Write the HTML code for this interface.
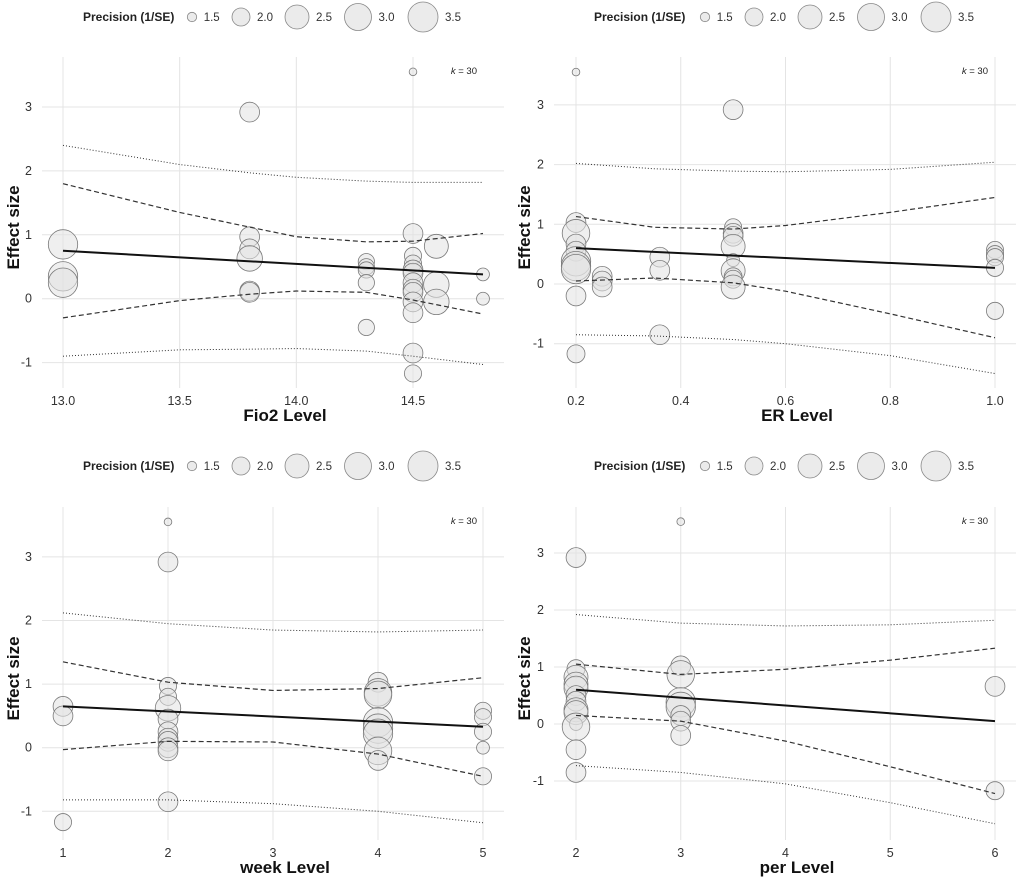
<!DOCTYPE html>
<html><head><meta charset="utf-8">
<style>
html,body{margin:0;padding:0;background:#fff;}
svg{display:block;font-family:"Liberation Sans",sans-serif;}
</style></head>
<body>
<svg id="chart" width="1022" height="879" viewBox="0 0 1022 879" xmlns="http://www.w3.org/2000/svg"></svg>
<script>
// ---------- data ----------
const legendVals = [1.5, 2.0, 2.5, 3.0, 3.5];
const legendRadii = [4.7, 9, 12, 13.5, 15];
const yTicks = [-1, 0, 1, 2, 3];

// Panel 1: Fio2
const p1X = [14.5,13.8,13.0,13.0,13.0,13.8,13.8,13.8,13.8,13.8,14.3,14.3,14.3,14.3,14.3,14.5,14.5,14.5,14.5,14.5,14.5,14.5,14.5,14.5,14.5,14.5,14.5,14.6,14.6,14.6,14.8,14.8];
const p1Y = [3.55,2.92,0.85,0.35,0.25,0.97,0.78,0.63,0.12,0.10,0.58,0.50,0.45,0.25,-0.45,1.02,0.67,0.55,0.45,0.40,0.25,0.15,0.10,-0.05,-0.22,-0.85,-1.17,0.82,0.22,-0.05,0.38,0.0];
const p1P = [1.4,2.15,3.4,3.4,3.4,2.15,2.15,2.75,2.15,2.15,1.9,1.9,1.9,1.9,1.9,2.15,1.95,1.95,2.15,2.15,2.15,2.15,2.15,2.15,2.15,2.15,1.95,2.5,2.75,2.75,1.7,1.7];
const p1Ticks = [13.0, 13.5, 14.0, 14.5];
const p1TickLabels = ["13.0","13.5","14.0","14.5"];
const p1FitX = [13.0, 14.8];
const p1FitY = [0.75, 0.38];
const p1BandX = [13.0, 13.5, 13.8, 14.0, 14.3, 14.5, 14.8];
const p1CiUp = [1.8, 1.35, 1.12, 0.97, 0.89, 0.9, 1.02];
const p1CiLo = [-0.3, -0.03, 0.07, 0.12, 0.1, -0.02, -0.24];
const p1PiUp = [2.4, 2.1, 1.97, 1.9, 1.84, 1.82, 1.82];
const p1PiLo = [-0.9, -0.8, -0.79, -0.78, -0.82, -0.9, -1.03];

// Panel 2: ER
const p2X = [0.2,0.2,0.2,0.2,0.2,0.2,0.2,0.2,0.2,0.2,0.25,0.25,0.25,0.36,0.36,0.36,0.5,0.5,0.5,0.5,0.5,0.5,0.5,0.5,0.5,0.5,1.0,1.0,1.0,1.0,1.0];
const p2Y = [3.55,1.03,0.85,0.67,0.55,0.38,0.30,0.25,-0.2,-1.17,0.13,0.05,-0.05,0.45,0.23,-0.85,2.92,0.95,0.85,0.80,0.63,0.40,0.22,0.12,0.08,-0.05,0.57,0.50,0.45,0.27,-0.45];
const p2P = [1.4,2.15,3.1,2.15,2.15,3.4,3.4,3.4,2.15,2.0,2.15,2.15,2.15,2.15,2.15,2.15,2.15,1.95,2.15,2.15,2.5,1.7,2.5,2.0,2.0,2.5,1.95,1.95,1.95,1.95,1.95];
const p2Ticks = [0.2, 0.4, 0.6, 0.8, 1.0];
const p2TickLabels = ["0.2","0.4","0.6","0.8","1.0"];
const p2FitX = [0.2, 1.0];
const p2FitY = [0.6, 0.27];
const p2BandX = [0.2, 0.35, 0.5, 0.6, 0.8, 1.0];
const p2CiUp = [1.13, 0.95, 0.92, 0.98, 1.2, 1.45];
const p2CiLo = [0.05, 0.1, 0.02, -0.12, -0.5, -0.9];
const p2PiUp = [2.02, 1.93, 1.89, 1.88, 1.92, 2.04];
const p2PiLo = [-0.85, -0.87, -0.93, -1.0, -1.2, -1.5];

// Panel 3: week
const p3X = [1,1,1,2,2,2,2,2,2,2,2,2,2,2,2,4,4,4,4,4,4,4,4,5,5,5,5,5];
const p3Y = [0.65,0.5,-1.17,3.55,2.92,0.97,0.8,0.62,0.45,0.25,0.15,0.10,0.0,-0.05,-0.85,1.03,0.87,0.83,0.40,0.30,0.22,-0.05,-0.2,0.58,0.48,0.25,0.0,-0.45];
const p3P = [2.15,2.15,1.95,1.4,2.15,1.95,1.95,2.75,2.15,2.15,2.15,2.15,2.15,2.15,2.15,2.15,3.1,3.1,3.4,3.4,3.4,3.1,2.15,1.95,1.95,1.95,1.7,1.95];
const p3Ticks = [1, 2, 3, 4, 5];
const p3TickLabels = ["1","2","3","4","5"];
const p3FitX = [1, 5];
const p3FitY = [0.65, 0.33];
const p3BandX = [1, 2, 3, 4, 5];
const p3CiUp = [1.35, 1.03, 0.9, 0.93, 1.1];
const p3CiLo = [-0.03, 0.1, 0.09, -0.1, -0.45];
const p3PiUp = [2.12, 1.95, 1.85, 1.82, 1.85];
const p3PiLo = [-0.82, -0.82, -0.88, -1.0, -1.18];

// Panel 4: per
const p4X = [2,2,2,2,2,2,2,2,2,2,2,2,2,3,3,3,3,3,3,3,3,6,6];
const p4Y = [2.92,0.97,0.82,0.70,0.63,0.50,0.40,0.25,0.20,0.0,-0.05,-0.45,-0.85,3.55,1.02,0.87,0.38,0.30,0.15,0.05,-0.2,0.66,-1.17];
const p4P = [2.15,2.0,2.5,2.5,2.5,2.15,2.15,2.5,2.5,1.7,3.1,2.15,2.15,1.4,2.15,3.1,3.4,3.4,2.15,2.15,2.15,2.15,2.0];
const p4Ticks = [2, 3, 4, 5, 6];
const p4TickLabels = ["2","3","4","5","6"];
const p4FitX = [2, 6];
const p4FitY = [0.6, 0.05];
const p4BandX = [2, 3, 4, 5, 6];
const p4CiUp = [1.05, 0.87, 0.96, 1.12, 1.33];
const p4CiLo = [0.15, 0.05, -0.3, -0.75, -1.22];
const p4PiUp = [1.92, 1.77, 1.72, 1.74, 1.82];
const p4PiLo = [-0.73, -0.85, -1.05, -1.38, -1.75];

// ---------- layout ----------
const NS = "http://www.w3.org/2000/svg";
const svg = document.getElementById("chart");
function mk(tag, attrs, parent){
  const e = document.createElementNS(NS, tag);
  for (const k in attrs) e.setAttribute(k, attrs[k]);
  (parent||svg).appendChild(e);
  return e;
}
function radius(p){
  if (p <= legendVals[0]) return legendRadii[0] + (p - legendVals[0]) * (legendRadii[1]-legendRadii[0]) / (legendVals[1]-legendVals[0]);
  for (let i=0;i<legendVals.length-1;i++){
    if (p <= legendVals[i+1]) return legendRadii[i] + (p-legendVals[i])*(legendRadii[i+1]-legendRadii[i])/(legendVals[i+1]-legendVals[i]);
  }
  return legendRadii[legendRadii.length-1];
}

const panels = [
  {name:"fio2", X:p1X,Y:p1Y,P:p1P,ticks:p1Ticks,labels:p1TickLabels,fitX:p1FitX,fitY:p1FitY,bx:p1BandX,ciU:p1CiUp,ciL:p1CiLo,piU:p1PiUp,piL:p1PiLo,
   title:"Fio2 Level", ox:0, oy:0, l:42, r:504, t:57, b:388, xa:13.0, pa:63, xb:14.5, pb:413, y0:298.7, yu:63.9},
  {name:"er", X:p2X,Y:p2Y,P:p2P,ticks:p2Ticks,labels:p2TickLabels,fitX:p2FitX,fitY:p2FitY,bx:p2BandX,ciU:p2CiUp,ciL:p2CiLo,piU:p2PiUp,piL:p2PiLo,
   title:"ER Level", ox:511, oy:0, l:554, r:1016, t:57, b:388, xa:0.2, pa:576, xb:1.0, pb:995, y0:284, yu:59.7},
  {name:"week", X:p3X,Y:p3Y,P:p3P,ticks:p3Ticks,labels:p3TickLabels,fitX:p3FitX,fitY:p3FitY,bx:p3BandX,ciU:p3CiUp,ciL:p3CiLo,piU:p3PiUp,piL:p3PiLo,
   title:"week Level", ox:0, oy:440, l:42, r:504, t:507, b:840, xa:1, pa:63, xb:5, pb:483, y0:747.7, yu:63.6},
  {name:"per", X:p4X,Y:p4Y,P:p4P,ticks:p4Ticks,labels:p4TickLabels,fitX:p4FitX,fitY:p4FitY,bx:p4BandX,ciU:p4CiUp,ciL:p4CiLo,piU:p4PiUp,piL:p4PiLo,
   title:"per Level", ox:511, oy:440, l:554, r:1016, t:507, b:840, xa:2, pa:576, xb:6, pb:995, y0:724, yu:57}
];
const legendOffsets = [0, 49, 105, 166, 231];

panels.forEach(pn => {
  const g = mk("g", {});
  
  
  const sx = v => pn.pa + (v - pn.xa) * (pn.pb - pn.pa) / (pn.xb - pn.xa);
  const sy = v => pn.y0 - v * pn.yu;

  // legend
  const lg = mk("g", {}, g);
  
  
  const ly = pn.oy + (pn.oy ? 26 : 17);
  const lt = mk("text", {x: pn.ox + 83, y: ly + 4, "font-size": 12, "font-weight": "bold", fill: "#222"}, lg);
  lt.textContent = "Precision (1/SE)";
  
  
  legendVals.forEach((v, i) => {
    const cx = pn.ox + 192 + legendOffsets[i] + (pn.ox ? 2 : 0);
    const c = mk("circle", {cx: cx, cy: ly, r: radius(v), fill: "#ebebeb", stroke: "#888", "stroke-width": 0.8}, lg);
    
    
    const t = mk("text", {x: cx + radius(v) + 7, y: ly + 4, "font-size": 11.5, fill: "#333"}, lg);
    t.textContent = v.toFixed(1);
    
    
  });

  // grid
  yTicks.forEach(v => {
    const ln = mk("line", {x1: pn.l, x2: pn.r, y1: sy(v), y2: sy(v), stroke: "#e4e4e4", "stroke-width": 1}, g);
    
    
    const t = mk("text", {x: pn.l - 10, y: sy(v) + 4, "font-size": 12.5, fill: "#333", "text-anchor": "end"}, g);
    t.textContent = String(v);
    
    
  });
  pn.ticks.forEach((v, i) => {
    const ln = mk("line", {x1: sx(v), x2: sx(v), y1: pn.t, y2: pn.b, stroke: "#e4e4e4", "stroke-width": 1}, g);
    
    
    const t = mk("text", {x: sx(v), y: pn.b + 17, "font-size": 12.5, fill: "#333", "text-anchor": "middle"}, g);
    t.textContent = pn.labels[i];
    
    
  });

  // axis titles
  const xt = mk("text", {x: (pn.l + pn.r)/2 + 12, y: pn.b + 33, "font-size": 17, "font-weight": "bold", fill: "#111", "text-anchor": "middle"}, g);
  xt.textContent = pn.title;
  
  
  const ycy = (pn.t + pn.b)/2 + 5;
  const yt = mk("text", {x: pn.ox + 19, y: ycy, "font-size": 17, "font-weight": "bold", fill: "#111", "text-anchor": "middle", transform: `rotate(-90 ${pn.ox + 19} ${ycy})`}, g);
  yt.textContent = "Effect size";
  
  

  // k label
  const kt = mk("text", {x: pn.ox + 477, y: pn.t + 17, "font-size": 9.5, fill: "#222", "text-anchor": "end"}, g);
  kt.innerHTML = '<tspan font-style="italic">k</tspan> = 30';
  
  

  // bubbles
  pn.X.forEach((x, i) => {
    const c = mk("circle", {cx: sx(x), cy: sy(pn.Y[i]), r: radius(pn.P[i]), fill: "rgba(225,225,225,0.55)", stroke: "#7a7a7a", "stroke-width": 0.8}, g);
    
    
  });

  // bands
  const poly = (arr, name, dash, w) => {
    const pts = pn.bx.map((x, i) => sx(x) + "," + sy(arr[i])).join(" ");
    const pl = mk("polyline", {points: pts, fill: "none", stroke: "#333", "stroke-width": w, "stroke-dasharray": dash}, g);
    
    
  };
  poly(pn.ciU, 'ci-upper', '5 3', 1.2);
  poly(pn.ciL, 'ci-lower', '5 3', 1.2);
  poly(pn.piU, 'pi-upper', '1 2', 1);
  poly(pn.piL, 'pi-lower', '1 2', 1);

  const fit = mk("line", {x1: sx(pn.fitX[0]), y1: sy(pn.fitY[0]), x2: sx(pn.fitX[1]), y2: sy(pn.fitY[1]), stroke: "#111", "stroke-width": 2}, g);
  
  
});
</script>
</body></html>
